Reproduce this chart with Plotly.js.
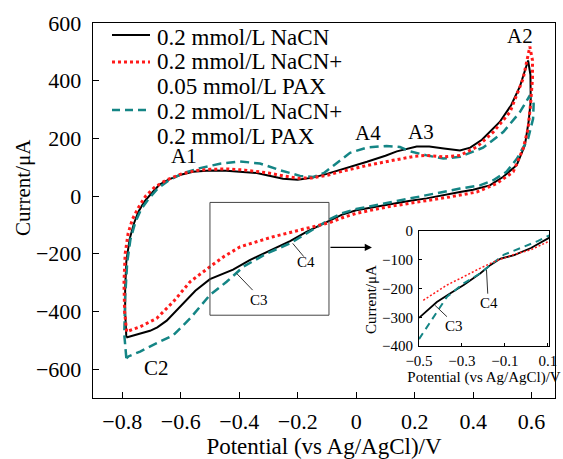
<!DOCTYPE html>
<html>
<head>
<meta charset="utf-8">
<script src="https://cdn.plot.ly/plotly-3.0.1.min.js"></script>
<style>html,body{margin:0;padding:0;background:#fff;}#chart{width:563px;height:459px;}</style>
</head>
<body>
<div id="chart"></div>
<script>
// ---- Data ----
var seriesNames = ['0.2 mmol/L NaCN', '0.2 mmol/L NaCN+', '0.05 mmol/L PAX', '0.2 mmol/L NaCN+', '0.2 mmol/L PAX'];

// 0.2 mmol/L NaCN (full cycle: anodic branch then cathodic branch)
var nacnX = [-0.786,-0.790,-0.790,-0.786,-0.775,-0.760,-0.745,-0.725,-0.695,-0.672,-0.640,-0.600,-0.558,-0.500,-0.444,-0.387,-0.340,-0.305,-0.250,-0.200,-0.148,-0.100,-0.040,0.037,0.100,0.139,0.207,0.250,0.300,0.355,0.390,0.430,0.491,0.530,0.560,0.588,
             0.596,0.597,0.590,0.577,0.549,0.502,0.457,0.400,0.355,0.300,0.241,0.180,0.127,0.060,0.000,-0.050,-0.090,-0.130,-0.170,-0.226,-0.300,-0.364,-0.421,-0.500,-0.550,-0.590,-0.620,-0.648,-0.680,-0.705,-0.750,-0.786];
var nacnY = [-490,-400,-320,-227,-150,-95,-55,-20,15,40,58,74,84,89,88,85,80,72,60,57,64,77,95,119,140,155,172,172,165,158,168,195,257,315,380,470,
             420,330,260,176,107,66,37,22,14,3,-8,-17,-26,-38,-49,-65,-85,-103,-124,-156,-192,-222,-255,-288,-328,-372,-405,-432,-455,-467,-480,-490];

// 0.2 mmol/L NaCN + 0.05 mmol/L PAX
var pax005X = [-0.785,-0.792,-0.794,-0.790,-0.780,-0.765,-0.745,-0.720,-0.690,-0.650,-0.600,-0.550,-0.500,-0.440,-0.380,-0.300,-0.250,-0.200,-0.150,-0.100,-0.040,0.037,0.126,0.200,0.241,0.298,0.355,0.412,0.469,0.526,0.571,0.594,
               0.603,0.603,0.596,0.588,0.571,0.537,0.480,0.412,0.320,0.207,0.150,0.115,0.060,0.000,-0.050,-0.090,-0.170,-0.284,-0.397,-0.450,-0.500,-0.568,-0.625,-0.682,-0.739,-0.785];
var pax005Y = [-470,-400,-300,-200,-130,-80,-40,0,30,55,76,88,93,94,90,80,70,62,63,72,88,106,124,138,141,136,141,170,222,291,407,518,
               470,407,314,234,164,84,43,14,-3,-20,-30,-36,-47,-60,-76,-92,-112,-141,-176,-208,-245,-297,-366,-424,-453,-470];

// 0.2 mmol/L NaCN + 0.2 mmol/L PAX
var pax02X = [-0.786,-0.793,-0.790,-0.783,-0.772,-0.755,-0.735,-0.710,-0.680,-0.640,-0.590,-0.534,-0.466,-0.397,-0.329,-0.261,-0.192,-0.147,-0.110,-0.078,-0.021,0.036,0.104,0.150,0.184,0.241,0.298,0.355,0.434,0.503,0.526,0.560,0.594,
              0.607,0.605,0.588,0.550,0.514,0.469,0.423,0.355,0.241,0.127,0.047,0.000,-0.050,-0.090,-0.130,-0.170,-0.226,-0.306,-0.386,-0.443,-0.500,-0.568,-0.625,-0.682,-0.739,-0.779,-0.786];
var pax02Y = [-562,-480,-350,-230,-150,-90,-45,-10,25,55,80,97,112,120,113,90,70,66,80,105,150,168,174,170,155,141,130,136,168,222,250,291,349,
              320,268,199,130,84,55,37,26,3,-20,-37,-45,-60,-80,-105,-130,-164,-199,-245,-297,-343,-424,-482,-510,-539,-556,-562];

// Inset (zoom of the cathodic branch)
var insetNacnX = [-0.5,-0.417,-0.35,-0.292,-0.214,-0.167,-0.12,-0.057,0.021,0.107];
var insetNacnY = [-302,-247,-215,-188,-147,-118,-96,-84,-59,-23];
var insetPax005X = [-0.48,-0.37,-0.292,-0.214,-0.136,-0.058,0.021,0.107];
var insetPax005Y = [-241,-188,-159,-129,-102,-82,-65,-35];
var insetPax02X = [-0.5,-0.448,-0.37,-0.292,-0.214,-0.167,-0.104,-0.026,0.052,0.107];
var insetPax02Y = [-376,-318,-229,-182,-147,-118,-82,-59,-35,-15];

var mainXTicks = [-0.8,-0.6,-0.4,-0.2,0,0.2,0.4,0.6];
var mainYTicks = [-600,-400,-200,0,200,400,600];
var insetXTicks = [-0.5,-0.3,-0.1,0.1];
var insetYTicks = [-400,-300,-200,-100,0];

// ---- Styles ----
var FONT = 'Liberation Serif';
var BLACK = '#000000', RED = '#ff1a1a', TEAL = '#148585';
function minus(v){ return String(v).replace('-', '\u2212'); }

var traces = [
  {x: nacnX, y: nacnY, mode: 'lines', line: {color: BLACK, width: 2}, showlegend: false, hoverinfo: 'skip'},
  {x: pax02X, y: pax02Y, mode: 'lines', line: {color: TEAL, width: 2.5, dash: '9px,5px'}, showlegend: false, hoverinfo: 'skip'},
  {x: pax005X, y: pax005Y, mode: 'lines', line: {color: RED, width: 3, dash: '3px,3px'}, showlegend: false, hoverinfo: 'skip'},
  {x: insetNacnX, y: insetNacnY, xaxis: 'x2', yaxis: 'y2', mode: 'lines', line: {color: BLACK, width: 1.8}, showlegend: false, hoverinfo: 'skip'},
  {x: insetPax02X, y: insetPax02Y, xaxis: 'x2', yaxis: 'y2', mode: 'lines', line: {color: TEAL, width: 2, dash: '7px,5px'}, showlegend: false, hoverinfo: 'skip'},
  {x: insetPax005X, y: insetPax005Y, xaxis: 'x2', yaxis: 'y2', mode: 'lines', line: {color: RED, width: 1.5, dash: '2px,2px'}, showlegend: false, hoverinfo: 'skip'}
];

// pixel -> paper helpers for the fixed 563x459 layout
function py(p){ return (398 - p) / 375; }
function px(p){ return (p - 93) / 462; }

var legendRows = [37, 62, 87, 112, 136];
var annotations = [];
for (var i = 0; i < seriesNames.length; i++) {
  annotations.push({xref: 'paper', yref: 'paper', x: px(155), y: py(legendRows[i]), xanchor: 'left', yanchor: 'middle',
    text: seriesNames[i], showarrow: false, font: {family: FONT, size: 23, color: '#000'}});
}
function lab(t, x, y, size, xr, yr) {
  return {xref: xr || 'x', yref: yr || 'y', x: x, y: y, text: t, showarrow: false, xanchor: 'center', yanchor: 'middle',
    font: {family: FONT, size: size, color: '#000'}};
}
annotations.push(lab('A1', -0.589, 140, 21));
annotations.push(lab('A2', 0.560, 555, 21));
annotations.push(lab('A3', 0.223, 221, 21));
annotations.push(lab('A4', 0.040, 220, 21));
annotations.push(lab('C2', -0.683, -597, 21));
annotations.push(lab('C3', -0.332, -360, 15));
annotations.push(lab('C4', -0.170, -230, 15));
annotations.push(lab('C3', -0.339, -329, 15, 'x2', 'y2'));
annotations.push(lab('C4', -0.172, -250, 15, 'x2', 'y2'));
// y-axis titles
annotations.push({xref: 'paper', yref: 'paper', x: px(23), y: py(188), text: 'Current/μA', textangle: -90, showarrow: false,
  xanchor: 'center', yanchor: 'middle', font: {family: FONT, size: 21, color: '#000'}});
annotations.push({xref: 'paper', yref: 'paper', x: px(371), y: py(300), text: 'Current/μA', textangle: -90, showarrow: false,
  xanchor: 'center', yanchor: 'middle', font: {family: FONT, size: 15, color: '#000'}});
// arrow from box to inset
annotations.push({xref: 'x', yref: 'y', axref: 'x', ayref: 'y', x: 0.054, y: -178, ax: -0.093, ay: -178, text: '',
  showarrow: true, arrowhead: 2, arrowsize: 1.2, arrowwidth: 1.2, arrowcolor: '#000'});

var shapes = [
  // legend samples
  {type: 'line', xref: 'paper', yref: 'paper', x0: px(112), x1: px(150), y0: py(35), y1: py(35), line: {color: BLACK, width: 2}},
  {type: 'line', xref: 'paper', yref: 'paper', x0: px(112), x1: px(150), y0: py(62), y1: py(62), line: {color: RED, width: 3, dash: '3px,3px'}},
  {type: 'line', xref: 'paper', yref: 'paper', x0: px(112), x1: px(150), y0: py(110), y1: py(110), line: {color: TEAL, width: 2.5, dash: '8px,5px'}},
  // zoom box
  {type: 'rect', xref: 'x', yref: 'y', x0: -0.5, x1: -0.093, y0: -22, y1: -413, line: {color: '#444', width: 1}},
  // leader lines
  {type: 'line', xref: 'x', yref: 'y', x0: -0.409, y0: -268, x1: -0.354, y1: -326, line: {color: '#333', width: 1}},
  {type: 'line', xref: 'x', yref: 'y', x0: -0.217, y0: -164, x1: -0.179, y1: -210, line: {color: '#333', width: 1}},
  {type: 'line', xref: 'x2', yref: 'y2', x0: -0.425, y0: -259, x1: -0.370, y1: -298, line: {color: '#333', width: 1}},
  {type: 'line', xref: 'x2', yref: 'y2', x0: -0.186, y0: -135, x1: -0.180, y1: -218, line: {color: '#333', width: 1}}
];

var layout = {
  width: 563, height: 459,
  margin: {l: 93, r: 8, t: 23, b: 61, pad: 0},
  paper_bgcolor: '#fff', plot_bgcolor: 'rgba(0,0,0,0)',
  showlegend: false,
  font: {family: FONT, color: '#000'},
  xaxis: {
    range: [-0.9, 0.68], tickmode: 'array', tickvals: mainXTicks, ticktext: mainXTicks.map(minus),
    ticks: 'inside', ticklen: 6, tickwidth: 1, tickcolor: '#000', showgrid: false, zeroline: false,
    showline: true, mirror: true, linecolor: '#000', linewidth: 1.3,
    tickfont: {family: FONT, size: 22, color: '#000'}, ticklabelstandoff: 3,
    title: {text: 'Potential (vs Ag/AgCl)/V', font: {family: FONT, size: 23, color: '#000'}, standoff: 2},
    domain: [0, 1]
  },
  yaxis: {
    range: [-700, 600], tickmode: 'array', tickvals: mainYTicks, ticktext: mainYTicks.map(minus),
    ticks: 'inside', ticklen: 6, tickwidth: 1, tickcolor: '#000', showgrid: false, zeroline: false,
    showline: true, mirror: true, linecolor: '#000', linewidth: 1.3,
    tickfont: {family: FONT, size: 22, color: '#000'}, ticklabelstandoff: 6,
    domain: [0, 1]
  },
  xaxis2: {
    anchor: 'y2', domain: [px(419), px(549)], range: [-0.5, 0.105],
    tickmode: 'array', tickvals: insetXTicks, ticktext: insetXTicks.map(minus),
    ticks: 'inside', ticklen: 3, tickwidth: 1, tickcolor: '#000', showgrid: false, zeroline: false,
    showline: true, mirror: true, linecolor: '#000', linewidth: 1,
    tickfont: {family: FONT, size: 15, color: '#000'}, ticklabelstandoff: 1,
    title: {text: 'Potential (vs Ag/AgCl)/V', font: {family: FONT, size: 15, color: '#000'}, standoff: 0}
  },
  yaxis2: {
    anchor: 'x2', domain: [py(346), py(231)], range: [-400, 0],
    tickmode: 'array', tickvals: insetYTicks, ticktext: insetYTicks.map(minus),
    ticks: 'inside', ticklen: 3, tickwidth: 1, tickcolor: '#000', showgrid: false, zeroline: false,
    showline: true, mirror: true, linecolor: '#000', linewidth: 1,
    tickfont: {family: FONT, size: 15, color: '#000'}, ticklabelstandoff: 2
  },
  annotations: annotations,
  shapes: shapes
};

Plotly.newPlot('chart', traces, layout, {staticPlot: true, displayModeBar: false});
</script>
</body>
</html>
